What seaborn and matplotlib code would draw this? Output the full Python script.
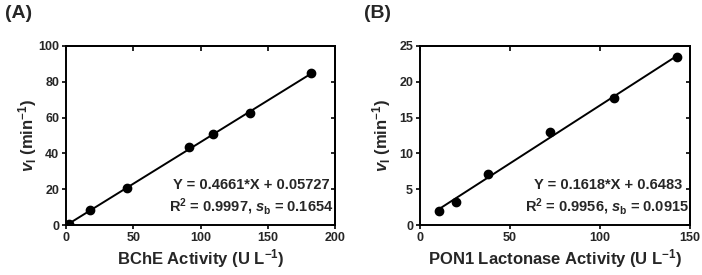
import matplotlib
matplotlib.use('Agg')
import matplotlib.pyplot as plt
import seaborn as sns
import pandas as pd

# Calibration data
bche_activity = [2, 18, 45.5, 91.5, 109.5, 136.5, 182.5]
bche_rate = [0.5, 8.2, 20.7, 43.3, 50.6, 62.8, 84.7]
pon1_activity = [10.5, 20, 38, 72, 107.5, 143]
pon1_rate = [2.0, 3.2, 7.1, 13.0, 17.7, 23.4]

eq_a = ['Y = 0.4661*X + 0.05727', r'R$^2$ = 0.9997, $s_\mathrm{b}$ = 0.1654']
eq_b = ['Y = 0.1618*X + 0.6483 ', r'R$^2$ = 0.9956, $s_\mathrm{b}$ = 0.0915']

sns.set_style('ticks')
plt.rcParams['font.family'] = ['Liberation Sans', 'DejaVu Sans']
plt.rcParams['font.weight'] = 'bold'
plt.rcParams['mathtext.fontset'] = 'custom'
plt.rcParams['mathtext.rm'] = 'Liberation Sans:bold'
plt.rcParams['mathtext.it'] = 'Liberation Sans:bold:italic'
plt.rcParams['mathtext.bf'] = 'Liberation Sans:bold'

df_a = pd.DataFrame({'x': bche_activity, 'y': bche_rate})
df_b = pd.DataFrame({'x': pon1_activity, 'y': pon1_rate})

fig = plt.figure(figsize=(7.02, 2.75), dpi=100)
ax_a = fig.add_axes([66 / 702, 50 / 275, 269 / 702, 179 / 275])
ax_b = fig.add_axes([420 / 702, 50 / 275, 270 / 702, 179 / 275])


def style_axes(ax, xlim, ylim, xticks, yticks, xlabel, ylab_x):
    ax.set_xlim(*xlim)
    ax.set_ylim(*ylim)
    ax.set_xticks(xticks)
    ax.set_yticks(yticks)
    for s in ax.spines.values():
        s.set_visible(True)
        s.set_linewidth(1.4)
        s.set_color('black')
    ax.tick_params(direction='out', length=3, width=1.4, labelsize=9, pad=2)
    for lab in ax.get_xticklabels() + ax.get_yticklabels():
        lab.set_fontweight('bold')
    # mirrored inward ticks on top and right
    top = ax.secondary_xaxis('top')
    top.set_xticks(xticks)
    top.tick_params(direction='in', length=3.5, width=1.4, labeltop=False)
    right = ax.secondary_yaxis('right')
    right.set_yticks(yticks)
    right.tick_params(direction='in', length=3, width=1.4, labelright=False)
    for s in list(top.spines.values()) + list(right.spines.values()):
        s.set_linewidth(1.4)
    ax.set_xlabel(xlabel, fontsize=12, fontweight='bold', labelpad=2)
    ax.set_ylabel(r'$v_\mathrm{I}$ (min$^{-1}$)', fontsize=12, fontweight='bold')
    ax.yaxis.set_label_coords(ylab_x, 0.5)


sns.regplot(data=df_a, x='x', y='y', ax=ax_a, ci=None, truncate=True, color='black',
            scatter_kws={'s': 36, 'zorder': 3, 'alpha': 1}, line_kws={'linewidth': 1.4})
style_axes(ax_a, (0, 200), (0, 100), [0, 50, 100, 150, 200], [0, 20, 40, 60, 80, 100],
           r'BChE Activity (U L$^{-1}$)', -0.10)
ax_a.text(0.98, 0.223, eq_a[0], transform=ax_a.transAxes, ha='right', va='center',
          fontsize=10.5, fontweight='bold')
ax_a.text(0.995, 0.10, eq_a[1], transform=ax_a.transAxes, ha='right', va='center',
          fontsize=10.5, fontweight='bold')

sns.regplot(data=df_b, x='x', y='y', ax=ax_b, ci=None, truncate=True, color='black',
            scatter_kws={'s': 36, 'zorder': 3, 'alpha': 1}, line_kws={'linewidth': 1.4})
style_axes(ax_b, (0, 150), (0, 25), [0, 50, 100, 150], [0, 5, 10, 15, 20, 25],
           r'PON1 Lactonase Activity (U L$^{-1}$)', -0.10)
ax_b.text(0.985, 0.223, eq_b[0], transform=ax_b.transAxes, ha='right', va='center',
          fontsize=10.5, fontweight='bold')
ax_b.text(0.995, 0.10, eq_b[1], transform=ax_b.transAxes, ha='right', va='center',
          fontsize=10.5, fontweight='bold')

fig.text(5 / 702, 1 - 13 / 275, '(A)', fontsize=14, fontweight='bold', va='center')
fig.text(364 / 702, 1 - 13 / 275, '(B)', fontsize=14, fontweight='bold', va='center')

fig.savefig('out.png', dpi=100)
